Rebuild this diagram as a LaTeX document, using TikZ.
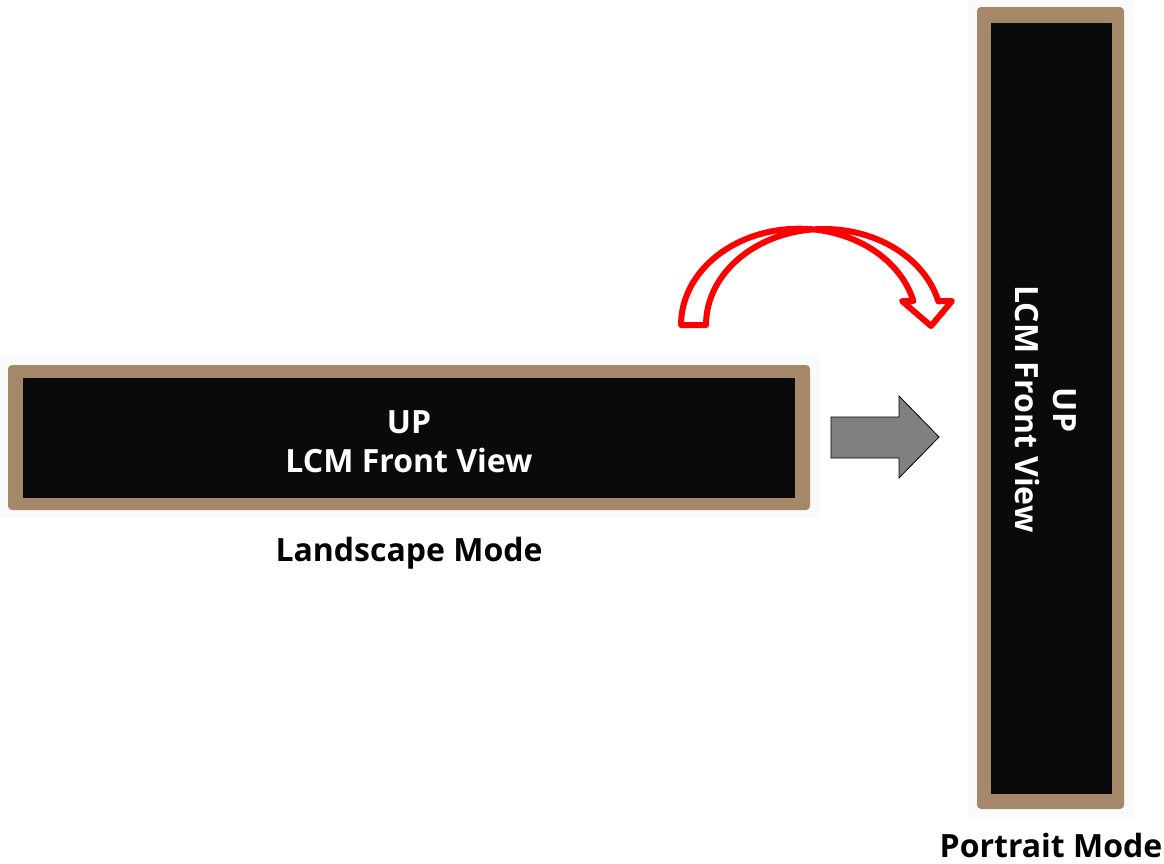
\documentclass[tikz,border=0pt]{standalone}
\usepackage{fontspec}
\setmainfont{Open Sans}
\definecolor{framebrown}{RGB}{165,136,105}
\definecolor{screenblack}{RGB}{10,10,10}
\definecolor{panelwhite}{RGB}{250,250,250}
\definecolor{arrowgray}{RGB}{128,128,128}
\definecolor{arrowred}{RGB}{255,0,0}
\tikzset{
  panel/.style={fill=panelwhite, draw=none},
  bezel/.style={fill=framebrown, draw=none, rounded corners=4pt},
  screen/.style={fill=screenblack, draw=none},
  screentext/.style={text=white, font=\bfseries\fontsize{32}{38}\selectfont, inner sep=0pt, anchor=base},
  caption/.style={text=black, font=\bfseries\fontsize{32}{38}\selectfont, inner sep=0pt, anchor=base},
  grayarrow/.style={fill=arrowgray, draw=black, line width=0.8pt, line join=miter},
  redarrow/.style={fill=white, draw=arrowred, line width=6pt, line join=round}
}
\begin{document}
\begin{tikzpicture}[x=1pt,y=-1pt]
\useasboundingbox (0,0) rectangle (1164,863);
% background panels
\fill[panel] (0,355) rectangle (820,518);
\fill[panel] (968,0) rectangle (1134,818);
% landscape display
\path[bezel] (8,365) rectangle (810,510);
\path[screen] (23,378) rectangle (795,498);
\node[screentext] (landup) at (409,433) {UP};
\node[screentext] (landlcm) at (409,472) {LCM Front View};
\node[caption] (landcap) at (409,561) {Landscape Mode};
% portrait display
\path[bezel] (977,7) rectangle (1124,809);
\path[screen] (991,23) rectangle (1112,794);
\node[screentext, rotate=-90] (portup) at (1053,410) {UP};
\node[screentext, rotate=-90] (portlcm) at (1015,409) {LCM Front View};
\node[caption] (portcap) at (1051,857) {Portrait Mode};
% gray block arrow
\coordinate (g1) at (831,417);
\coordinate (g2) at (899,417);
\coordinate (g3) at (899,396);
\coordinate (gtip) at (939,437);
\coordinate (g5) at (899,478);
\coordinate (g6) at (899,458);
\coordinate (g7) at (831,458);
\draw[grayarrow] (g1) -- (g2) -- (g3) -- (gtip) -- (g5) -- (g6) -- (g7) -- cycle;
% red curved arrow
\coordinate (r1) at (681,325);
\coordinate (r2) at (706,325);
\coordinate (hr) at (952,301);
\coordinate (rtip) at (931,326);
\coordinate (hl) at (902,301);
\coordinate (r3) at (913.4,301);
\draw[redarrow] (r1) -- (r2) arc[start angle=180, end angle=345.7, x radius=118, y radius=96]
  -- (hr) -- (rtip) -- (hl) -- (r3)
  arc[start angle=345.7, end angle=180, x radius=118, y radius=96] -- cycle;
\end{tikzpicture}
\end{document}
